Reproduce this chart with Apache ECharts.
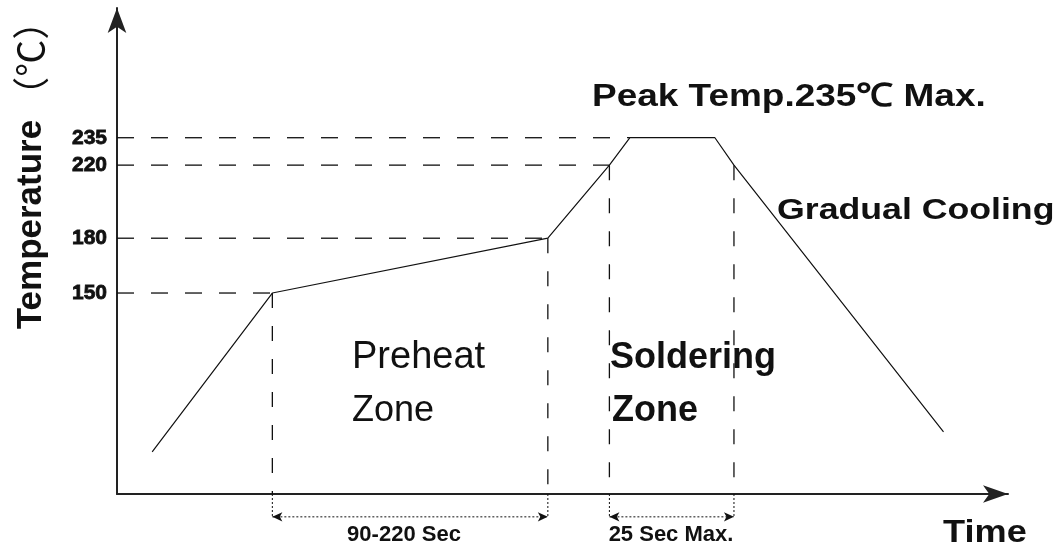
<!DOCTYPE html>
<html>
<head>
<meta charset="utf-8">
<script src="https://cdn.jsdelivr.net/npm/echarts@6/dist/echarts.min.js"></script>
<style>
html,body{margin:0;padding:0;background:#fff;}
#chart{width:1056px;height:554px;}
</style>
</head>
<body>
<div id="chart"></div>
<script>
// Reflow profile (schematic time units, temperature in degrees C)
var curveTime = [12, 53, 147, 168, 175, 204, 210.5, 282];
var curveTemp = [63, 150, 180, 220, 235, 235, 220, 74];
var tickLabels = [150, 180, 220, 235];
// horizontal guide lines: level and time where they meet the curve
var hGuideTemp = [235, 220, 180, 150];
var hGuideTime = [175, 168, 147, 53];
// vertical guide lines: time and temperature of the curve point
var vGuideTime = [53, 147, 168, 210.5];
var vGuideTemp = [150, 180, 220, 220];
// zone spans
var spanStart = [53, 168];
var spanEnd = [147, 210.5];
var spanLabels = ['90-220 Sec', '25 Sec Max.'];

var yMin = 40, yMax = 306, yBelow = 27.5;
var xMin = 0, xMax = 304;

var chart = echarts.init(document.getElementById('chart'), null, {renderer: 'canvas'});

var series = [];
series.push({
  type: 'line', silent: true, symbol: 'none', animation: false, z: 5,
  data: curveTime.map(function (t, i) { return [t, curveTemp[i]]; }),
  lineStyle: {color: '#111', width: 1.2}
});
hGuideTemp.forEach(function (v, i) {
  series.push({
    type: 'line', silent: true, symbol: 'none', animation: false,
    data: [[xMin, v], [hGuideTime[i], v]],
    lineStyle: {color: '#111', width: 1.3, type: [17, 17]}
  });
});
vGuideTime.forEach(function (t, i) {
  series.push({
    type: 'line', silent: true, symbol: 'none', animation: false,
    data: [[t, vGuideTemp[i]], [t, yMin]],
    lineStyle: {color: '#111', width: 1.3, type: [15, 18]}
  });
  series.push({
    type: 'line', silent: true, symbol: 'none', animation: false, clip: false,
    data: [[t, yMin], [t, yBelow]],
    lineStyle: {color: '#111', width: 1, type: [2, 2]}
  });
});
spanStart.forEach(function (s, i) {
  series.push({
    type: 'line', silent: true, animation: false, clip: false,
    showSymbol: true, showAllSymbol: true,
    data: [
      {value: [s, yBelow], symbol: 'arrow', symbolRotate: 90, symbolSize: [7, 10]},
      {value: [spanEnd[i], yBelow], symbol: 'arrow', symbolRotate: -90, symbolSize: [7, 10]}
    ],
    itemStyle: {color: '#111', borderWidth: 0},
    lineStyle: {color: '#111', width: 1, type: [2, 2]}
  });
});

var option = {
  backgroundColor: '#fff',
  animation: false,
  grid: {left: 117, right: 48, top: 8, bottom: 60, containLabel: false},
  xAxis: {
    type: 'value', min: xMin, max: xMax,
    axisLine: {show: true, lineStyle: {color: '#222', width: 2}, symbol: ['none', 'arrow'], symbolSize: [13, 25]},
    axisTick: {show: false}, axisLabel: {show: false}, splitLine: {show: false}
  },
  yAxis: {
    type: 'value', min: yMin, max: yMax, interval: 5,
    axisLine: {show: true, lineStyle: {color: '#222', width: 2}, symbol: ['none', 'arrow'], symbolSize: [14, 25]},
    axisTick: {show: false}, splitLine: {show: false},
    axisLabel: {
      margin: 10, color: '#111', fontFamily: 'Liberation Sans', fontWeight: 'bold', fontSize: 21,
      textBorderColor: '#111', textBorderWidth: 0.8,
      formatter: function (v) { return tickLabels.indexOf(v) >= 0 ? String(v) : ''; }
    }
  },
  graphic: [
    {type: 'text', x: 31, y: 166, rotation: Math.PI / 2, style: {
      text: '{a|Temperature}{b|（℃）}', textAlign: 'center', textVerticalAlign: 'middle',
      rich: {
        a: {fontFamily: 'Liberation Sans', fontWeight: 'bold', fontSize: 35, fill: '#111'},
        b: {fontFamily: 'Noto Sans CJK SC', fontWeight: 'normal', fontSize: 37, fill: '#111', padding: [0, 0, 0, 6]}
      }}},
    {type: 'text', x: 592, y: 97, scaleX: 1.155, style: {text: 'Peak Temp.235℃ Max.', textAlign: 'left', textVerticalAlign: 'middle',
      font: 'bold 32px "Liberation Sans"', fill: '#111'}},
    {type: 'text', x: 777, y: 211, scaleX: 1.23, style: {text: 'Gradual Cooling', textAlign: 'left', textVerticalAlign: 'middle',
      font: 'bold 29px "Liberation Sans"', fill: '#111'}},
    {type: 'text', x: 352, y: 358, style: {text: 'Preheat', textAlign: 'left', textVerticalAlign: 'middle',
      font: '38px "Liberation Sans"', fill: '#111'}},
    {type: 'text', x: 352, y: 411, style: {text: 'Zone', textAlign: 'left', textVerticalAlign: 'middle',
      font: '36px "Liberation Sans"', fill: '#111'}},
    {type: 'text', x: 610, y: 358, style: {text: 'Soldering', textAlign: 'left', textVerticalAlign: 'middle',
      font: 'bold 36px "Liberation Sans"', fill: '#111'}},
    {type: 'text', x: 612, y: 411, style: {text: 'Zone', textAlign: 'left', textVerticalAlign: 'middle',
      font: 'bold 36px "Liberation Sans"', fill: '#111'}},
    {type: 'text', x: 404, y: 535, style: {text: spanLabels[0], textAlign: 'center', textVerticalAlign: 'middle',
      font: 'bold 22px "Liberation Sans"', fill: '#111'}},
    {type: 'text', x: 671, y: 535, style: {text: spanLabels[1], textAlign: 'center', textVerticalAlign: 'middle',
      font: 'bold 22px "Liberation Sans"', fill: '#111'}},
    {type: 'text', x: 943, y: 533, scaleX: 1.13, style: {text: 'Time', textAlign: 'left', textVerticalAlign: 'middle',
      font: 'bold 32px "Liberation Sans"', fill: '#111'}}
  ],
  series: series
};
chart.setOption(option);
</script>
</body>
</html>
